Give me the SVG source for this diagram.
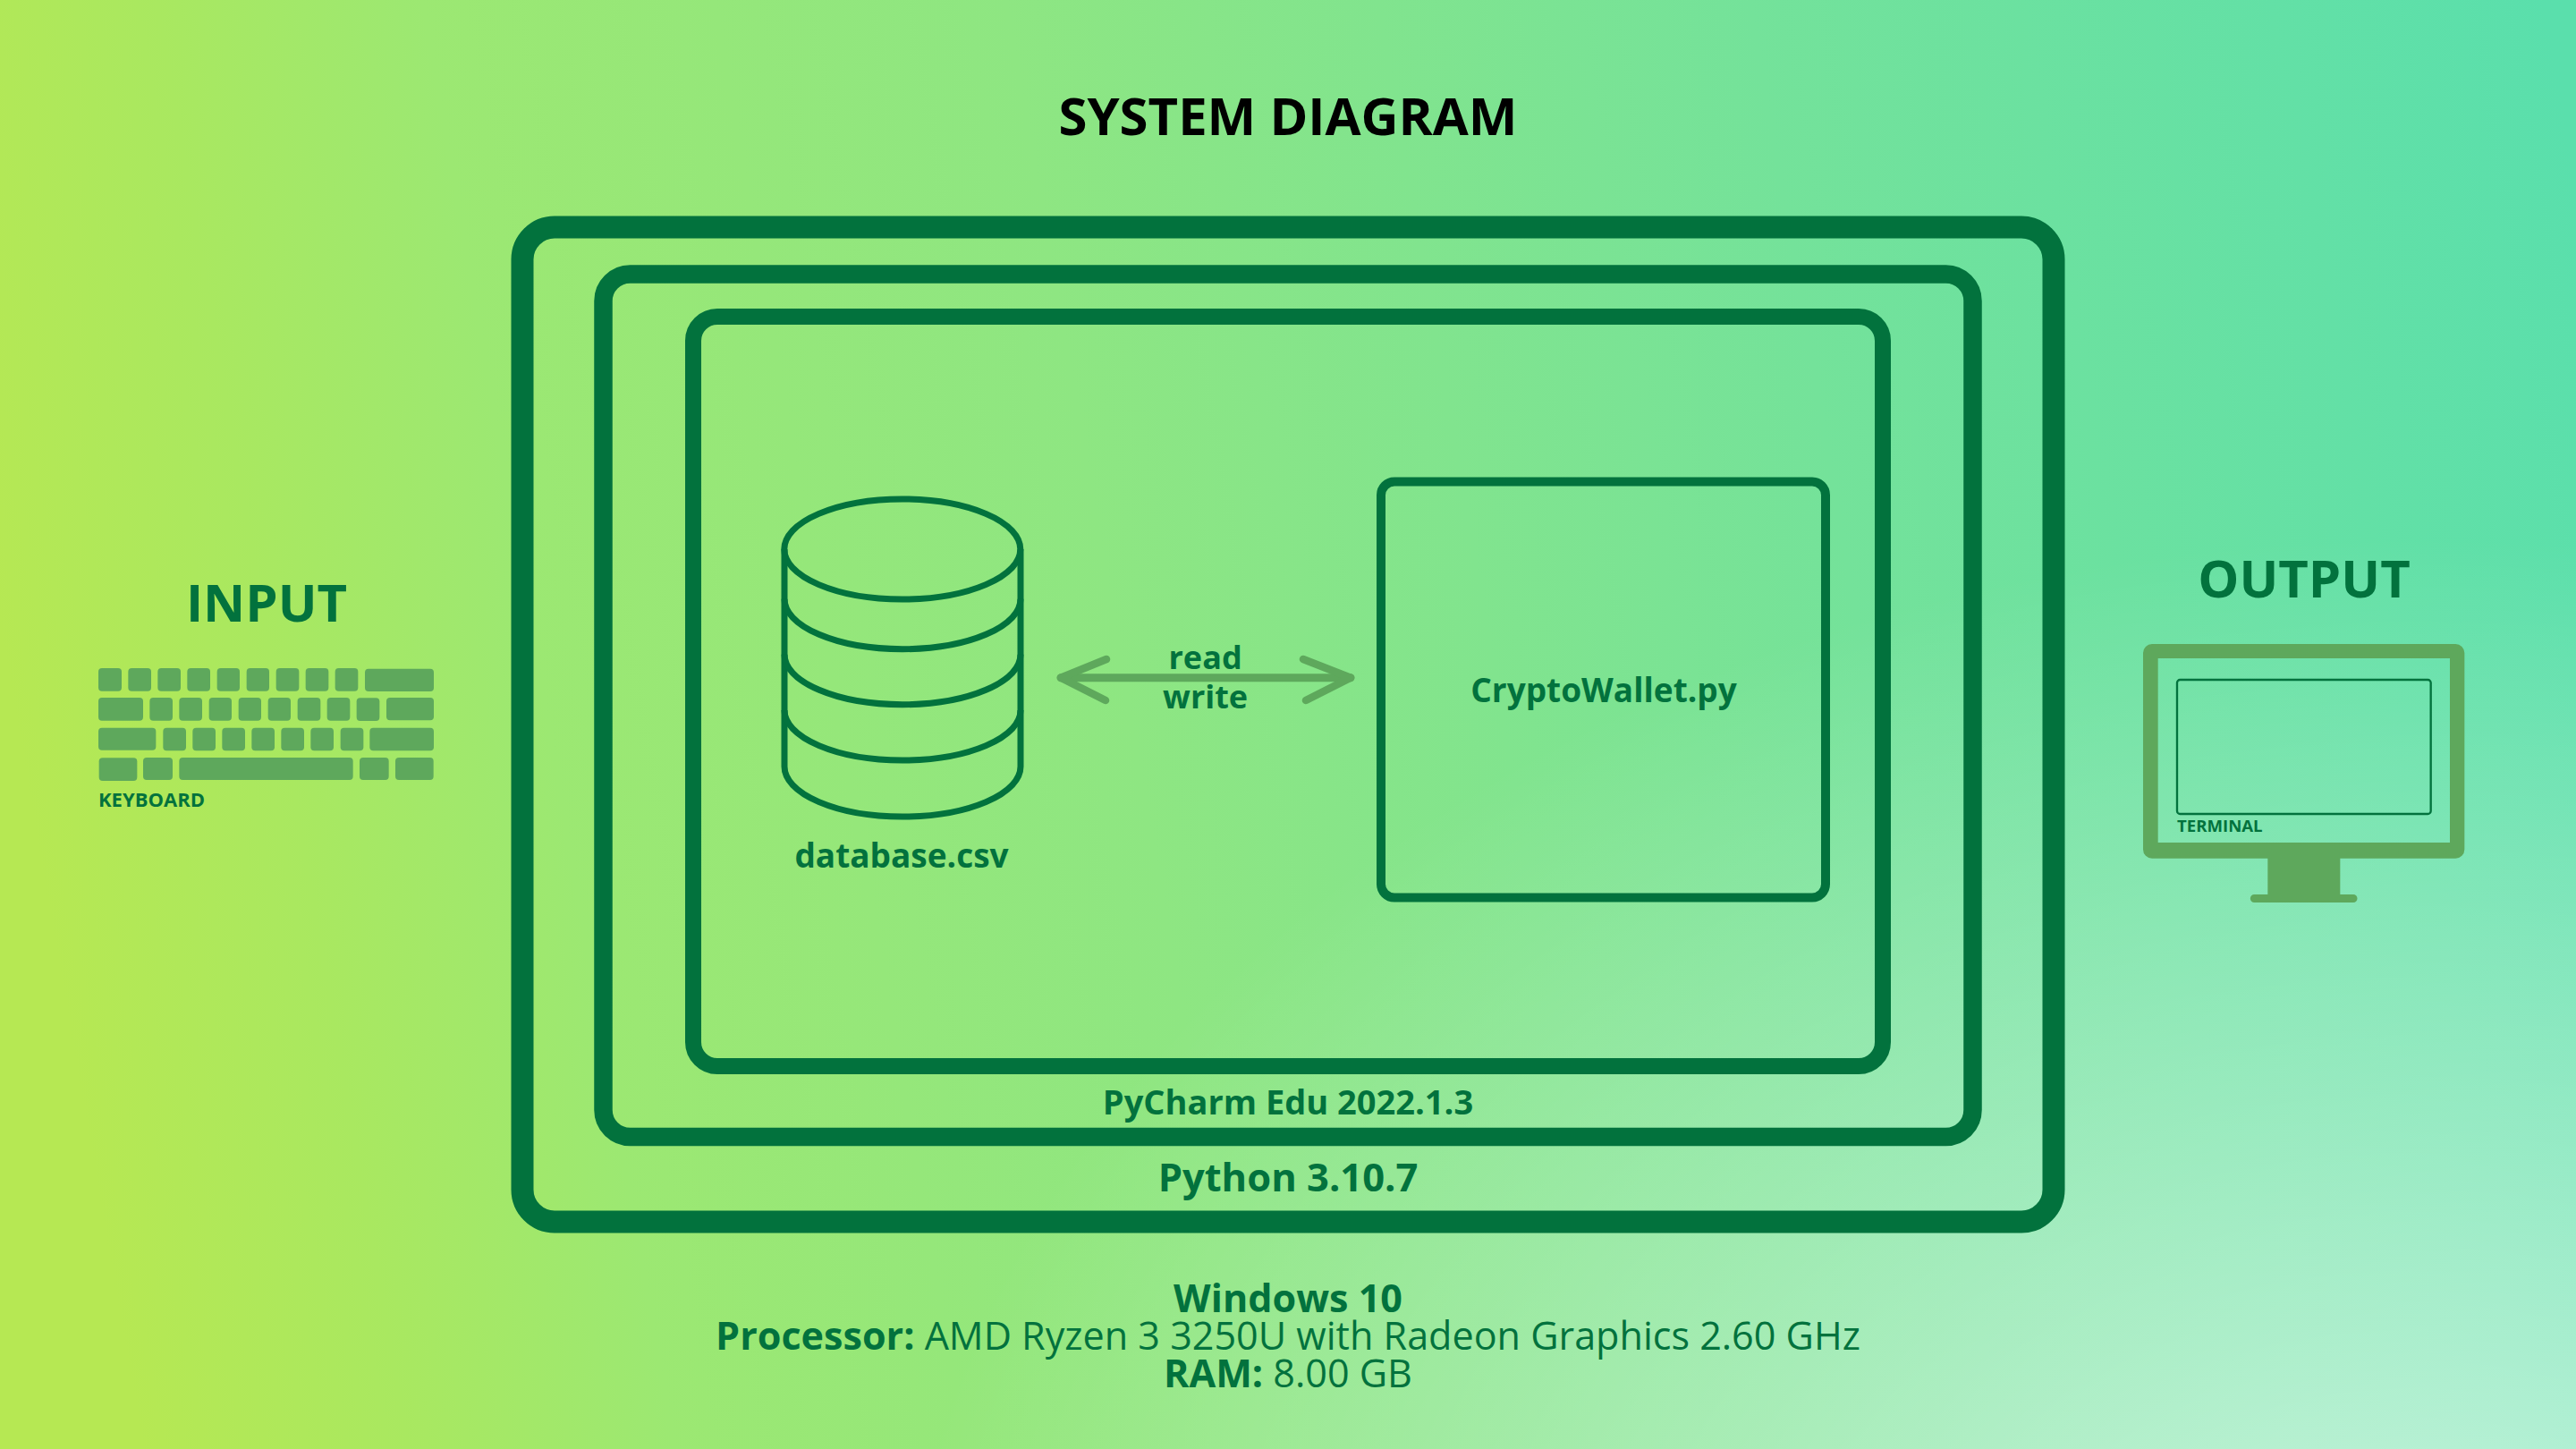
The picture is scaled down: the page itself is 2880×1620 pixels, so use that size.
<svg xmlns="http://www.w3.org/2000/svg" width="2880" height="1620" viewBox="0 0 2880 1620">
<defs>
<linearGradient id="bg" gradientUnits="userSpaceOnUse" x1="0" y1="700" x2="2880" y2="200">
<stop offset="0" stop-color="#b6e853"/><stop offset="0.1" stop-color="#a9e860"/><stop offset="0.2" stop-color="#9ce872"/><stop offset="0.42" stop-color="#8ee682"/><stop offset="0.7" stop-color="#74e29a"/><stop offset="1" stop-color="#5adfac"/>
</linearGradient>
<radialGradient id="glow" gradientUnits="userSpaceOnUse" cx="0" cy="0" r="1" gradientTransform="translate(2700 1900) scale(1700 1300)">
<stop offset="0" stop-color="#fff" stop-opacity="0.66"/><stop offset="1" stop-color="#fff" stop-opacity="0"/>
</radialGradient>
</defs>
<style>
text{font-family:"Open Sans","Noto Sans",sans-serif;font-weight:700;fill:#02723d;text-anchor:middle}
.frame{fill:none;stroke:#02723d}
.k{fill:#5ea85c}
.cyl{fill:none;stroke:#02723d;stroke-width:7}
.arrow{fill:none;stroke:#5ea85c;stroke-linecap:round;stroke-linejoin:round}
.n{font-weight:400}
</style>
<rect width="2880" height="1620" fill="url(#bg)"/>
<rect width="2880" height="1620" fill="url(#glow)"/>
<text id="title" x="1440" y="151" font-size="58" style="fill:#000">SYSTEM DIAGRAM</text>
<g id="input">
<text x="298" y="695" font-size="58">INPUT</text>
<g id="keyboard" transform="translate(80 620) scale(0.33333)">
<g class="k">
<rect x="90" y="381" width="78" height="77" rx="12"/><rect x="190" y="381" width="77" height="77" rx="12"/><rect x="289" y="381" width="77" height="77" rx="12"/><rect x="388" y="381" width="77" height="77" rx="12"/><rect x="488" y="381" width="76" height="77" rx="12"/><rect x="587" y="381" width="76" height="77" rx="12"/><rect x="686" y="381" width="77" height="77" rx="12"/><rect x="785" y="381" width="77" height="77" rx="12"/><rect x="884" y="381" width="77" height="77" rx="12"/><rect x="984" y="383" width="231" height="76" rx="12"/>
<rect x="90" y="480" width="150" height="77" rx="12"/><rect x="262" y="480" width="77" height="77" rx="12"/><rect x="361" y="480" width="77" height="77" rx="12"/><rect x="461" y="480" width="76" height="77" rx="12"/><rect x="560" y="480" width="76" height="77" rx="12"/><rect x="659" y="480" width="76" height="77" rx="12"/><rect x="758" y="480" width="77" height="77" rx="12"/><rect x="857" y="480" width="77" height="77" rx="12"/><rect x="956" y="481" width="77" height="77" rx="12"/><rect x="1056" y="480" width="159" height="76" rx="12"/>
<rect x="90" y="581" width="193" height="75" rx="12"/><rect x="307" y="581" width="77" height="77" rx="12"/><rect x="406" y="581" width="77" height="77" rx="12"/><rect x="505" y="581" width="77" height="77" rx="12"/><rect x="604" y="581" width="77" height="77" rx="12"/><rect x="703" y="581" width="77" height="77" rx="12"/><rect x="802" y="581" width="77" height="77" rx="12"/><rect x="902" y="581" width="77" height="77" rx="12"/><rect x="1000" y="581" width="215" height="77" rx="12"/>
<rect x="92" y="682" width="128" height="77" rx="12"/><rect x="240" y="681" width="99" height="75" rx="12"/><rect x="361" y="681" width="583" height="75" rx="12"/><rect x="966" y="681" width="98" height="75" rx="12"/><rect x="1086" y="681" width="128" height="75" rx="12"/>
</g>
</g>
<text x="110" y="902" font-size="22" style="text-anchor:start">KEYBOARD</text>
</g>
<g id="output">
<text x="2576" y="668" font-size="58">OUTPUT</text>
<g id="monitor" transform="translate(2360 600) scale(0.33333)">
<path class="k" fill-rule="evenodd" d="M138 360H1156A30 30 0 0 1 1186 390V1049A30 30 0 0 1 1156 1079H769V1200H813A13 13 0 0 1 813 1227H481A13 13 0 0 1 481 1200H526V1079H138A30 30 0 0 1 108 1049V390A30 30 0 0 1 138 360ZM158 408V1026H1137V408Z"/>
<rect x="222" y="480" width="851" height="450" rx="10" fill="none" stroke="#02723d" stroke-width="7"/>
</g>
<text x="2434" y="930" font-size="18.6" style="text-anchor:start">TERMINAL</text>
</g>
<g id="os-frame"><rect class="frame" x="584" y="254" width="1712" height="1112" rx="36" stroke-width="25"/></g>
<g id="python-frame"><rect class="frame" x="674.5" y="306.5" width="1531" height="964.500" rx="30" stroke-width="20.500"/>
<text x="1440" y="1331.700" font-size="43.500">Python 3.10.7</text></g>
<g id="pycharm-frame"><rect class="frame" x="775" y="354" width="1330" height="838" rx="27" stroke-width="18"/>
<text x="1440" y="1245.700" font-size="38">PyCharm Edu 2022.1.3</text></g>
<g id="database">
<g class="cyl">
<ellipse cx="1008.800" cy="614" rx="132" ry="56"/>
<path d="M877 614V857A132 56 0 0 0 1141 857V614"/>
<path d="M877 669.700A132 56 0 0 0 1141 669.700"/>
<path d="M877 731.700A132 56 0 0 0 1141 731.700"/>
<path d="M877 794A132 56 0 0 0 1141 794"/>
</g>
<text x="1008" y="970" font-size="37">database.csv</text>
</g>
<g id="cryptowallet">
<rect class="frame" x="1544" y="538.500" width="497" height="465" rx="15" stroke-width="10"/>
<text x="1793" y="785" font-size="37">CryptoWallet.py</text>
</g>
<g id="connectors">
<path class="arrow" stroke-width="9" d="M1186 757.700H1510"/>
<path class="arrow" stroke-width="8.500" d="M1237 737L1186 757.700L1236 783M1457 737L1510 757.700L1460 783"/>
</g>
<text x="1347.600" y="747.700" font-size="36">read</text>
<text x="1347.600" y="791.700" font-size="36">write</text>
<g id="system">
<text x="1440" y="1466.500" font-size="43.100">Windows 10</text>
<text x="1440" y="1508.500" font-size="43.100"><tspan>Processor: </tspan><tspan class="n">AMD Ryzen 3 3250U with Radeon Graphics 2.60 GHz</tspan></text>
<text x="1440" y="1550.500" font-size="43.100"><tspan>RAM: </tspan><tspan class="n">8.00 GB</tspan></text>
</g>
</svg>
